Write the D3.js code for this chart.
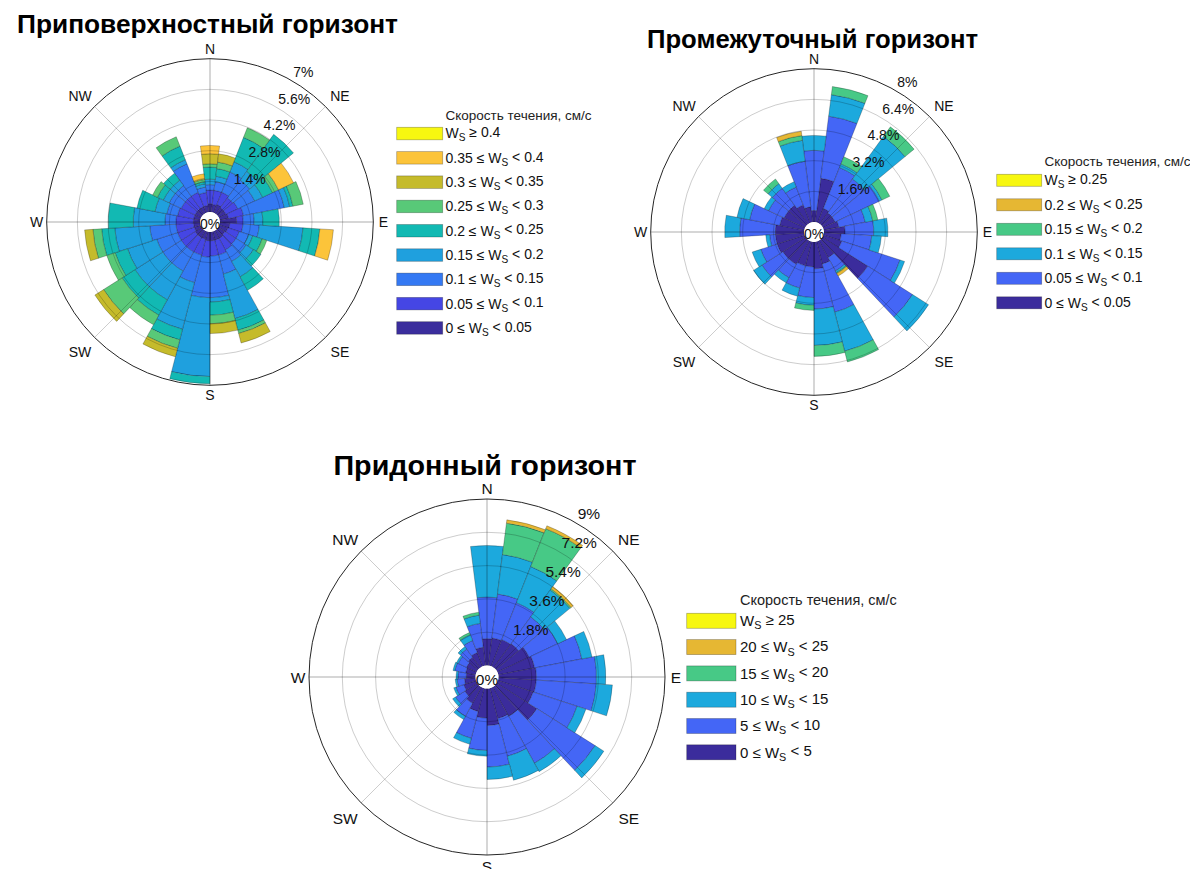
<!DOCTYPE html>
<html>
<head>
<meta charset="utf-8">
<script src="https://cdn.jsdelivr.net/npm/d3@7"></script>
<style>
  body { margin: 0; background: #fff; }
  svg { display: block; font-family: "Liberation Sans", Arial, Helvetica, sans-serif; }
</style>
</head>
<body>
<svg id="chart" width="1190" height="869"></svg>
<script>
// Direction sectors: 25 bins of 14.4°, centres in degrees clockwise from north
const directions = [0, 14.4, 28.8, 43.2, 57.6, 72, 86.4, 100.8, 115.2, 129.6, 144, 158.4, 172.8,
                    187.2, 201.6, 216, 230.4, 244.8, 259.2, 273.6, 288, 302.4, 316.8, 331.2, 345.6];
const compassLabels = ["N", "NE", "E", "SE", "S", "SW", "W", "NW"];

// Near-surface layer: frequency (%) of each speed class per direction
const surf0 = [0.38,0.35,0.4,0.35,0.35,0.4,0.76,0.45,0.4,0.35,0.4,0.4,0.4,0.4,0.35,0.35,0.35,0.3,0.3,0.3,0.3,0.3,0.3,0.3,0.3];
const surf1 = [0.62,0.65,0.6,0.55,0.6,0.7,0.3,0.6,0.55,0.6,0.6,0.7,0.7,0.75,0.75,0.75,0.75,0.8,0.8,0.8,0.75,0.7,0.7,0.7,0.6];
const surf2 = [0.25,0.4,1.0,1.0,0.85,1.9,0.5,0.75,0.45,0.55,0.6,0.9,1.9,1.85,1.3,1.0,1.0,1.0,1.2,0.5,0.5,0.6,0.6,1.4,0.25];
const surf3 = [0.25,0.25,0.5,0.5,0.4,0.25,0.4,2.0,0.2,0.4,0.8,2.1,0.2,3.6,2.2,1.5,1.5,1.4,1.6,1.45,0.55,0.3,0.3,0.2,0.15];
const surf4 = [0.55,0.35,1.2,2.09,0.5,0.15,0.75,0.77,0.45,0.4,0.7,0.55,0.6,0.33,0.5,0.8,0.7,0.6,0.6,1.14,0.84,0.3,0.4,0.67,0.1];
const surf5 = [0.15,0.3,0.47,0,0.3,0.48,0,0,0.22,0,0,0.15,0.39,0,0.4,0.5,1.0,0.4,0.4,0,0,0.24,0,0.46,0.1];
const surf6 = [0.46,0.38,0,0,0,0,0,0,0,0,0,0.45,0.45,0,0.4,0,0.47,0,0.38,0,0,0,0,0,0.05];
const surf7 = [0.38,0,0,0,0.76,0,0,0.62,0,0,0,0,0,0,0,0,0,0,0,0,0,0,0,0,0.21];
const surf8 = [0,0,0,0,0,0,0,0,0,0,0,0,0,0,0,0,0,0,0,0,0,0,0,0,0];
const surfTicks = [1.4, 2.8, 4.2, 5.6, 7];
const surfTickLabels = ["1.4%", "2.8%", "4.2%", "5.6%", "7%"];
const surfLegend = ["W_S ≥ 0.4", "0.35 ≤ W_S < 0.4", "0.3 ≤ W_S < 0.35", "0.25 ≤ W_S < 0.3",
                    "0.2 ≤ W_S < 0.25", "0.15 ≤ W_S < 0.2", "0.1 ≤ W_S < 0.15", "0.05 ≤ W_S < 0.1", "0 ≤ W_S < 0.05"];
const surfColors = ["#3b2e9d", "#4546e4", "#3479f3", "#1fa0de", "#12b9b3", "#58c978", "#c5bb2b", "#fcc43a", "#f7f710"];

// Intermediate layer
const mid0 = [0.6,2.3,0.8,0.7,0.7,0.8,1.1,0.9,1.0,2.8,1.0,1.2,1.4,1.3,1.3,1.4,1.4,1.5,1.5,1.5,1.3,1.2,1.2,1.0,0.8];
const mid1 = [3.14,3.27,2.3,2.2,2.55,1.4,1.5,1.6,3.2,2.77,0.8,2.6,2.1,1.6,1.2,0.8,1.3,0.9,0.3,1.86,1.6,0.9,1.1,1.0,2.4];
const mid2 = [0.78,1.13,0.2,2.75,0.15,0.4,0.74,0.5,0.25,0.99,0.1,2.1,1.9,0.4,0.44,0.3,0.52,0.47,0.2,0.78,0.67,0.25,0.3,0.3,1.1];
const mid3 = [0,0.43,0.4,0.61,0.45,0.27,0,0,0,0,0.05,0.58,0.57,0.27,0,0,0,0,0,0,0,0,0.3,0,0.25];
const mid4 = [0,0,0,0,0,0,0,0,0,0,0.15,0,0,0,0,0,0,0,0,0,0,0,0,0,0.23];
const mid5 = [0,0,0,0,0,0,0,0,0,0,0,0,0,0,0,0,0,0,0,0,0,0,0,0,0];
const midTicks = [1.6, 3.2, 4.8, 6.4, 8];
const midTickLabels = ["1.6%", "3.2%", "4.8%", "6.4%", "8%"];
const midLegend = ["W_S ≥ 0.25", "0.2 ≤ W_S < 0.25", "0.15 ≤ W_S < 0.2", "0.1 ≤ W_S < 0.15", "0.05 ≤ W_S < 0.1", "0 ≤ W_S < 0.05"];
const midColors = ["#3b2c9c", "#4466f6", "#1ca9dd", "#47c986", "#e6b733", "#f7f710"];

// Near-bottom layer
const bot0 = [1.45,1.5,1.55,1.6,1.9,2.0,2.05,2.05,2.0,2.57,1.8,1.7,2.0,1.6,1.3,1.0,0.8,0.7,0.6,0.5,0.55,0.6,0.7,0.8,1.0];
const bot1 = [2.25,2.4,2.15,1.8,1.7,2.6,3.25,3.25,2.5,3.73,2.9,2.1,2.25,1.75,1.5,0.8,0.6,0.45,0.4,0.45,0.6,0.5,0.55,0.7,1.3];
const bot2 = [2.79,2.15,2.1,1.8,0.53,0.56,0.5,0.87,0.5,0.56,0.52,1.34,0.67,0.31,0.33,0.2,0.18,0.12,0.1,0.1,0.1,0.1,0.16,0.34,0.45];
const bot3 = [0,1.71,2.2,0.08,0,0,0,0,0,0,0,0,0,0,0,0,0,0,0,0,0,0,0,0.12,0.16];
const bot4 = [0,0.18,0.17,0.15,0,0,0,0,0,0,0,0,0,0,0,0,0,0,0,0,0,0,0,0,0];
const bot5 = [0,0,0,0,0,0,0,0,0,0,0,0,0,0,0,0,0,0,0,0,0,0,0,0,0];
const botTicks = [1.8, 3.6, 5.4, 7.2, 9];
const botTickLabels = ["1.8%", "3.6%", "5.4%", "7.2%", "9%"];
const botLegend = ["W_S ≥ 25", "20 ≤ W_S < 25", "15 ≤ W_S < 20", "10 ≤ W_S < 15", "5 ≤ W_S < 10", "0 ≤ W_S < 5"];
const botColors = ["#3b2c9c", "#4466f6", "#1ca9dd", "#47c986", "#e6b733", "#f7f710"];

const legendTitle = "Скорость течения, см/с";

const svg = d3.select("#chart");
const rad = deg => deg * Math.PI / 180;

// Label with a subscripted "S" after W
function richLabel(sel, str) {
  const [before, after] = str.split("W_S");
  sel.append("tspan").text(before + "W");
  sel.append("tspan").attr("dy", "0.3em").attr("font-size", "0.72em").text("S");
  sel.append("tspan").attr("dy", "-0.3em").text(after);
}

function drawRose(cfg) {
  const g = svg.append("g").attr("transform", `translate(${cfg.cx},${cfg.cy})`);
  const r = d3.scaleLinear().domain([0, cfg.ticks[cfg.ticks.length - 1]]).range([cfg.hole, cfg.R]);
  const halfWidth = rad(360 / directions.length / 2);

  const keys = cfg.series.map((_, k) => "c" + k);
  const rows = directions.map((dir, i) => {
    const row = { dir };
    cfg.series.forEach((s, k) => { row["c" + k] = s[i]; });
    return row;
  });
  const layers = d3.stack().keys(keys)(rows);
  const arc = d3.arc();

  layers.forEach((layer, k) => {
    g.append("g")
      .selectAll("path")
      .data(layer.filter(d => d[1] - d[0] > 0))
      .join("path")
      .attr("d", d => arc({
        innerRadius: r(d[0]), outerRadius: r(d[1]),
        startAngle: rad(d.data.dir) - halfWidth, endAngle: rad(d.data.dir) + halfWidth
      }))
      .attr("fill", cfg.colors[k])
      .attr("stroke", "rgba(0,0,0,0.35)")
      .attr("stroke-width", 0.7);
  });

  // grid rings and spokes over the bars
  const grid = g.append("g").attr("fill", "none");
  grid.selectAll("circle.ring")
    .data(cfg.ticks.slice(0, -1))
    .join("circle")
    .attr("r", d => r(d))
    .attr("stroke", "rgba(0,0,0,0.2)")
    .attr("stroke-width", 1);
  grid.selectAll("line")
    .data(d3.range(8))
    .join("line")
    .attr("x1", k => cfg.hole * Math.sin(rad(k * 45)))
    .attr("y1", k => -cfg.hole * Math.cos(rad(k * 45)))
    .attr("x2", k => cfg.R * Math.sin(rad(k * 45)))
    .attr("y2", k => -cfg.R * Math.cos(rad(k * 45)))
    .attr("stroke", k => k % 2 === 0 ? "rgba(0,0,0,0.32)" : "rgba(0,0,0,0.2)")
    .attr("stroke-width", 1);
  grid.append("circle").attr("r", cfg.R).attr("stroke", "#262626").attr("stroke-width", 1);

  // central hole
  g.append("circle").attr("r", cfg.hole).attr("fill", "#fff");
  g.append("text")
    .attr("text-anchor", "middle").attr("dominant-baseline", "central")
    .attr("y", 2).attr("font-size", cfg.font).attr("fill", "#111")
    .text("0%");

  // frequency labels along one ray
  const la = rad(29);
  g.append("g").selectAll("text")
    .data(cfg.ticks)
    .join("text")
    .attr("x", d => r(d) * Math.sin(la) + 4 * cfg.k)
    .attr("y", d => -r(d) * Math.cos(la) - 2.5 * cfg.k)
    .attr("font-size", cfg.font).attr("fill", "#111")
    .text((d, i) => cfg.tickLabels[i]);

  // compass labels
  g.append("g").selectAll("text")
    .data(compassLabels)
    .join("text")
    .attr("text-anchor", "middle").attr("dominant-baseline", "central")
    .attr("x", (d, k) => (cfg.R + (k % 2 ? 20.5 : 10) * cfg.k) * Math.sin(rad(k * 45)))
    .attr("y", (d, k) => -(cfg.R + (k % 2 ? 18 : 10) * cfg.k) * Math.cos(rad(k * 45)) + (k % 2 ? 2 : 0))
    .attr("font-size", cfg.font).attr("fill", "#111")
    .text(d => d);

  // title
  svg.append("text")
    .attr("x", cfg.titleX).attr("y", cfg.titleY)
    .attr("text-anchor", "middle")
    .attr("font-weight", "bold").attr("font-size", cfg.titleSize).attr("fill", "#000")
    .attr("textLength", cfg.titleWidth).attr("lengthAdjust", "spacingAndGlyphs")
    .text(cfg.title);

  // legend, highest class first
  const lg = cfg.legend;
  const leg = svg.append("g");
  leg.append("text")
    .attr("x", lg.textX).attr("y", lg.titleY)
    .attr("font-size", lg.titleSize).attr("fill", "#222")
    .text(legendTitle);
  const n = cfg.labels.length;
  const items = d3.range(n).map(j => ({ label: cfg.labels[j], color: cfg.colors[n - 1 - j] }));
  const rowsSel = leg.selectAll("g.item").data(items).join("g")
    .attr("transform", (d, j) => `translate(0,${lg.top + j * lg.step})`);
  rowsSel.append("rect")
    .attr("x", lg.boxX).attr("y", 0).attr("width", lg.boxW).attr("height", lg.boxH)
    .attr("fill", d => d.color)
    .attr("stroke", "rgba(0,0,0,0.3)").attr("stroke-width", 0.8);
  rowsSel.append("text")
    .attr("x", lg.textX).attr("y", lg.boxH / 2 + lg.font * 0.35)
    .attr("font-size", lg.font).attr("fill", "#111")
    .each(function (d) { richLabel(d3.select(this), d.label); });
}

drawRose({
  cx: 210, cy: 222, R: 163.3, hole: 10, k: 1, font: 14,
  series: [surf0, surf1, surf2, surf3, surf4, surf5, surf6, surf7, surf8],
  colors: surfColors, ticks: surfTicks, tickLabels: surfTickLabels, labels: surfLegend,
  title: "Приповерхностный горизонт", titleX: 207.5, titleY: 33, titleSize: 25.5, titleWidth: 381,
  legend: { boxX: 396.7, boxW: 46, boxH: 12.5, top: 127.3, step: 24.3, textX: 445.5, titleY: 120, titleSize: 13.5, font: 14 }
});

drawRose({
  cx: 814, cy: 232, R: 163.3, hole: 10, k: 1, font: 14,
  series: [mid0, mid1, mid2, mid3, mid4, mid5],
  colors: midColors, ticks: midTicks, tickLabels: midTickLabels, labels: midLegend,
  title: "Промежуточный горизонт", titleX: 812.5, titleY: 47.5, titleSize: 25.5, titleWidth: 331,
  legend: { boxX: 996.7, boxW: 45, boxH: 12, top: 174.3, step: 24.5, textX: 1044.5, titleY: 165.5, titleSize: 13.5, font: 14 }
});

drawRose({
  cx: 487, cy: 677, R: 178, hole: 11.5, k: 1.1, font: 15.5,
  series: [bot0, bot1, bot2, bot3, bot4, bot5],
  colors: botColors, ticks: botTicks, tickLabels: botTickLabels, labels: botLegend,
  title: "Придонный горизонт", titleX: 485, titleY: 475, titleSize: 28.5, titleWidth: 303,
  legend: { boxX: 686.7, boxW: 49.3, boxH: 15, top: 613.3, step: 26.3, textX: 740, titleY: 605, titleSize: 14.5, font: 15 }
});
</script>
</body>
</html>
